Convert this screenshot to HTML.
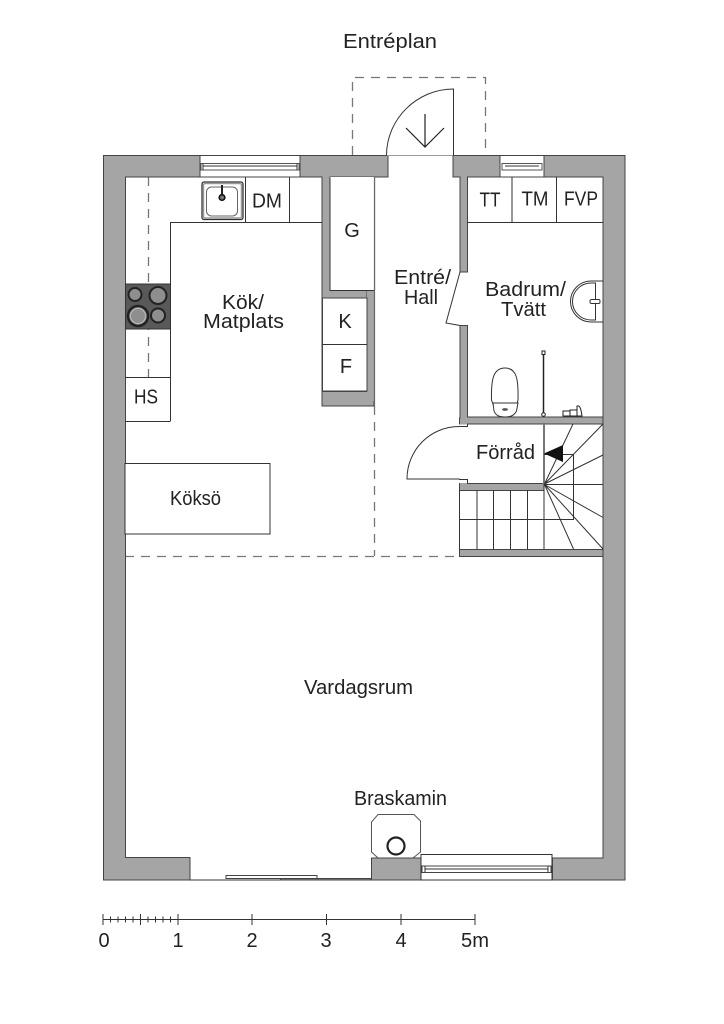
<!DOCTYPE html>
<html><head><meta charset="utf-8"><style>
html,body{margin:0;padding:0;background:#fff}
svg{display:block}
text{font-family:"Liberation Sans",sans-serif;font-size:20px;fill:#222;text-anchor:middle}
.w{fill:#a5a5a5;stroke:#444;stroke-width:1}
.l{fill:none;stroke:#333;stroke-width:1}
.g{fill:none;stroke:#666;stroke-width:1.2}
.d{fill:none;stroke:#777;stroke-width:1.3;stroke-dasharray:9 7}
</style></head><body>
<svg width="724" height="1024" viewBox="0 0 724 1024" xmlns="http://www.w3.org/2000/svg">
<rect width="724" height="1024" fill="#fff"/>

<!-- dashed -->
<path class="d" d="M352.500 155V77.500H485.500V155"/>
<path class="d" d="M148.500 177V377"/>
<path class="d" d="M374.500 406V556"/>
<path class="d" d="M125 556.500H459"/>

<!-- outer walls -->
<path class="w" d="M103.500 155.500H200V177H125.500V857.500H190V880H103.500Z"/>
<path class="w" d="M300 155.500H388V177H330V290.500H367V298H322V177H300Z" />
<path class="w" d="M453 155.500H500V177H467.500V272H460V177H453Z"/>
<path class="w" d="M544 155.500H625V880H552V858H603V177H544Z"/>
<path class="w" d="M322 298H367V391H374V298H367V290.500H374V406H322Z" fill-rule="evenodd"/>
<rect x="322" y="391.500" width="52" height="14.500" class="w"/>
<rect x="367" y="291" width="7" height="110" fill="#a5a5a5"/>
<path class="g" d="M374.500 177V406"/>
<rect x="322.500" y="298" width="44.500" height="93" fill="#fff" stroke="#444"/>
<rect x="330" y="177" width="44" height="113" fill="#fff"/>
<path class="l" d="M330 177.500V290.500H374"/>
<path class="g" d="M374.500 177V290"/>

<!-- bath walls -->
<path class="w" d="M460 325.500H467.500V417H603V424H467.500L467 428H459.500V418H460Z"/>
<path class="w" d="M459.500 479.500V490.500H544V483.500H467.500V479.500Z"/>
<path class="w" d="M459.500 549.500H603V556.500H459.500Z"/>

<!-- top windows -->
<rect x="200" y="155.500" width="100" height="21.500" fill="#fff" stroke="#444"/>
<rect x="201" y="163.500" width="98" height="6.500" fill="#fff" stroke="#555"/>
<path class="l" d="M203 166H297M203 163.500V170M297 163.500V170"/>
<rect x="500" y="155.500" width="44" height="21.500" fill="#fff" stroke="#444"/>
<rect x="502" y="163.500" width="40" height="6.500" fill="#fff" stroke="#555"/>
<path class="l" d="M505 166H539"/>

<!-- entrance door -->
<path class="l" d="M388 155.500H453"/>
<path fill="#fff" stroke="#333" d="M453.500 155.500V89C417 89 386.500 119 386.500 155.500"/>
<path d="M425 114V147M406 128L425 147L444 128" fill="none" stroke="#222" stroke-width="1.2"/>

<!-- kitchen counters -->
<path class="l" d="M170.500 421.500V222.500H322M245.500 177V222M289.500 177V222"/>
<path class="l" d="M125 377.500H170M125 421.500H170"/>
<rect x="125.500" y="284" width="45" height="45" fill="#595959" stroke="#333"/>
<g fill="#8e8e8e" stroke="#222">
<circle cx="135" cy="294.500" r="6.500" stroke-width="2"/>
<circle cx="158" cy="295.500" r="8.500" stroke-width="2"/>
<circle cx="138" cy="316" r="10" stroke-width="2.500"/>
<circle cx="158" cy="315.500" r="7" stroke-width="2"/>
</g>
<circle cx="138" cy="316" r="7.500" fill="none" stroke="#ccc" stroke-width=".7"/>

<!-- kitchen sink -->
<rect x="202" y="182" width="41" height="37.500" rx="2" fill="#fff" stroke="#333" stroke-width="1.300"/>
<rect x="203.500" y="183.500" width="38" height="34.500" rx="1.500" fill="#fff" stroke="#999" stroke-width="1.500"/>
<rect x="206.500" y="187" width="31" height="29" rx="5" fill="#fff" stroke="#666"/>
<path d="M222 185V195" stroke="#222" stroke-width="2"/>
<circle cx="222" cy="197.500" r="2.800" fill="#777" stroke="#111" stroke-width="1.600"/>

<!-- utility cells -->
<path class="l" d="M467 222.500H603M512 177V222M556.500 177V222"/>
<path class="l" d="M322.500 344.500H367"/>

<!-- bath door -->
<path class="l" d="M460 272L446 323L460 325.500"/>

<!-- bath fixtures -->
<path class="l" d="M603 281H591A20.500 20.500 0 0 0 591 322H603"/>
<path class="l" stroke-width=".8" d="M595.500 283V320H591A18.500 18.500 0 0 1 591 283Z"/>
<rect x="590" y="299.500" width="10" height="4" rx="1.500" fill="#fff" stroke="#333"/>
<path class="l" d="M491.500 400C491 380 493 368 505 368C517 368 518.500 380 518 400L516 407C513 415 510 417 505 417C500 417 496 415 494 407Z" fill="#fff"/>
<path fill="#fff" stroke="#333" d="M493 403H518L516.500 411C514 416 510 417 505 417C500 417 496 416 494 411Z"/>
<ellipse cx="505" cy="409.500" rx="3" ry="1.400" fill="#555"/>
<path d="M543.500 354V414" stroke="#222" stroke-width="1.500"/>
<rect x="542" y="351" width="3" height="3.500" fill="#fff" stroke="#222"/>
<circle cx="543.500" cy="414.500" r="1.800" fill="#fff" stroke="#222"/>
<path d="M563 411H570V416H563ZM570 410H577V416H570ZM577 406C580 405 581 409 582 416H577Z" fill="#fff" stroke="#222"/>

<!-- store door -->
<path fill="#fff" stroke="none" d="M459 424.500H543V483H459Z"/>
<path class="l" d="M459.500 426.500C430 426.500 407 450 407 479H459.500"/>
<path class="l" d="M459 426.500H467.500V424.500M459 479.500H467.500V483.500"/>

<!-- stairs -->
<path class="l" d="M477 490V549M493.500 490V549M510.500 490V549M527.500 490V549M544 484V549"/>
<path d="M544 424V484" stroke="#777" stroke-width="2" fill="none"/>
<path class="l" d="M459.500 490V549M459.500 519.500H573.500V454.500H544"/>
<path class="l" d="M544.500 484L573 424M544.500 484L603 424M544.500 484L603 455M544.500 484.500H603M544.500 484.500L603 517.500M544.500 484.500L603 549M544.500 484.500L573.500 549"/>
<path fill="#111" d="M544 453.500L563 445V462Z"/>

<!-- island -->
<rect x="125" y="463.500" width="145" height="70.500" fill="#fff" stroke="#333"/>

<!-- bottom -->
<path class="l" d="M190 880H371"/>
<rect x="226" y="875.500" width="91" height="3" fill="#fff" stroke="#444"/>
<rect x="280.500" y="878.500" width="91" height="1.500" fill="#888" stroke="#444"/>
<path fill="#fff" stroke="#555" d="M378 814.500H414L420.500 821V852L413 858H378L371.500 852V822Z"/>
<circle cx="396" cy="846" r="8.500" fill="#fff" stroke="#222" stroke-width="2.200"/>
<rect x="371.500" y="858" width="49.500" height="22" class="w"/>
<rect x="421" y="854.500" width="131" height="25.500" fill="#fff" stroke="#333"/>
<rect x="422" y="866" width="129" height="6.500" fill="#fff" stroke="#444"/>
<path class="l" d="M425 869H548M425 866V872.500M548 866V872.500"/>
<path stroke="#444" d="M552.500 858V880"/>

<!-- scale -->
<path d="M103 919.500H475M103 914V925M178 914V925M252 914V925M326.500 914V925M401 914V925M475 914V925M140.500 914V925" stroke="#333" fill="none"/>
<path d="M110.500 916.500V922.500M118 916.500V922.500M125.500 916.500V922.500M133 916.500V922.500M148 916.500V922.500M155.500 916.500V922.500M163 916.500V922.500M170.500 916.500V922.500" stroke="#333" fill="none"/>

<!-- labels -->
<text x="390" y="48" textLength="94" lengthAdjust="spacingAndGlyphs">Entréplan</text>
<text x="267" y="207.500" textLength="30" lengthAdjust="spacingAndGlyphs">DM</text>
<text x="352" y="237">G</text>
<text x="490" y="206.500" textLength="21" lengthAdjust="spacingAndGlyphs">TT</text>
<text x="535" y="205.500" textLength="27" lengthAdjust="spacingAndGlyphs">TM</text>
<text x="581" y="205.500" textLength="34" lengthAdjust="spacingAndGlyphs">FVP</text>
<text x="422.500" y="284" textLength="57" lengthAdjust="spacingAndGlyphs">Entré/</text>
<text x="421" y="304" textLength="34" lengthAdjust="spacingAndGlyphs">Hall</text>
<text x="525.500" y="296" textLength="81" lengthAdjust="spacingAndGlyphs">Badrum/</text>
<text x="523.500" y="316" textLength="45" lengthAdjust="spacingAndGlyphs">Tvätt</text>
<text x="243" y="309" textLength="42" lengthAdjust="spacingAndGlyphs">Kök/</text>
<text x="243.500" y="328" textLength="81" lengthAdjust="spacingAndGlyphs">Matplats</text>
<text x="345" y="328">K</text>
<text x="346" y="373">F</text>
<text x="146" y="403.500" textLength="24" lengthAdjust="spacingAndGlyphs">HS</text>
<text x="505.500" y="459" textLength="59" lengthAdjust="spacingAndGlyphs">Förråd</text>
<text x="195.500" y="505" textLength="51" lengthAdjust="spacingAndGlyphs">Köksö</text>
<text x="358.500" y="694" textLength="109" lengthAdjust="spacingAndGlyphs">Vardagsrum</text>
<text x="400.500" y="805" textLength="93" lengthAdjust="spacingAndGlyphs">Braskamin</text>
<text x="104" y="947">0</text>
<text x="178" y="947">1</text>
<text x="252" y="947">2</text>
<text x="326" y="947">3</text>
<text x="401" y="947">4</text>
<text x="475" y="947" textLength="28" lengthAdjust="spacingAndGlyphs">5m</text>
</svg>
</body></html>
